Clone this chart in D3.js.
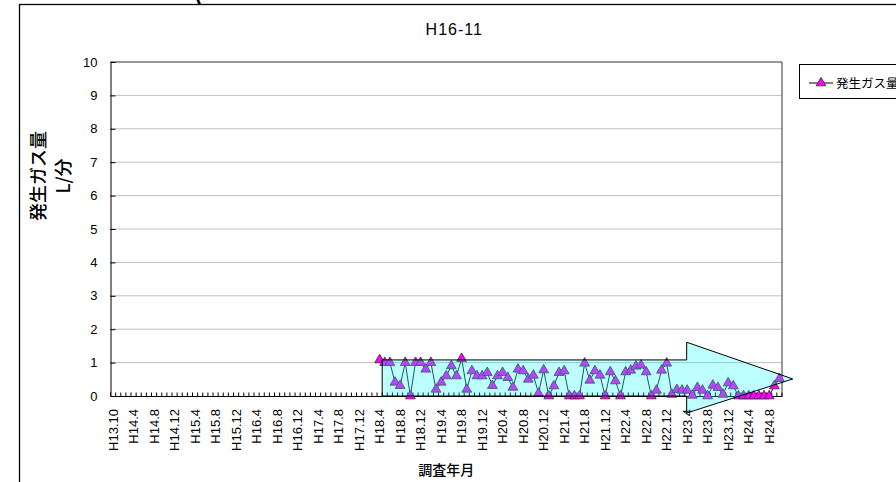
<!DOCTYPE html>
<html>
<head>
<meta charset="utf-8">
<script src="https://cdn.jsdelivr.net/npm/d3@7"></script>
<style>
body { margin: 0; background: #fff; }
svg { display: block; }
</style>
</head>
<body>
<script>
// ---- data ----
let chartTitle = "H16-11";
let seriesName = "発生ガス量";
let firstSurvey = "H18.4";   // first month with a reading

// monthly survey categories: H13.10, then H14.1 ... H24.10
let categories = ["H13.10"];
for (let k = 0; k < 130; k++) {
	categories.push("H" + (14 + Math.floor(k / 12)) + "." + (k % 12 + 1));
}

let tickLabels = ["H13.10","H14.4","H14.8","H14.12","H15.4","H15.8","H15.12",
	"H16.4","H16.8","H16.12","H17.4","H17.8","H17.12","H18.4","H18.8","H18.12",
	"H19.4","H19.8","H19.12","H20.4","H20.8","H20.12","H21.4","H21.8","H21.12",
	"H22.4","H22.8","H22.12","H23.4","H23.8","H23.12","H24.4","H24.8"];

// L/min, from H18.4 onwards
let gasFlow = [
	1.08, 1.0, 1.0, 0.41, 0.31, 1.0, 0, 1.0, 1.0, 0.8,
	1.0, 0.2, 0.41, 0.6, 0.9, 0.6, 1.12, 0.2, 0.75, 0.6,
	0.6, 0.7, 0.31, 0.6, 0.7, 0.55, 0.26, 0.8, 0.75, 0.5,
	0.62, 0.08, 0.78, 0, 0.3, 0.7, 0.75, 0, 0, 0,
	0.98, 0.47, 0.75, 0.62, 0, 0.72, 0.45, 0, 0.72, 0.77,
	0.89, 0.92, 0.72, 0, 0.17, 0.77, 0.98, 0.05, 0.19, 0.17,
	0.17, 0.02, 0.25, 0.17, 0, 0.32, 0.25, 0.05, 0.39, 0.3,
	0, 0, 0, 0, 0, 0, 0, 0.3, 0.52];

let yTicks = [0,1,2,3,4,5,6,7,8,9,10];

// trend arrow drawn over the chart (category-edge units, L/min)
let arrowX = {start: 53, neck: 112.4, tip: 133.1};
let arrowY = {shaftTop: 1.08, shaftBottom: 0, headTop: 1.61, headBottom: -0.51, tip: 0.51};

// ---- layout ----
let W = 896, H = 482;
let plot = {left: 110.5, right: 782, top: 62, bottom: 396};
let jp = "'Noto Sans CJK JP', sans-serif";
let en = "'Liberation Sans', Arial, sans-serif";

let svg = d3.select("body").append("svg")
	.attr("width", W)
	.attr("height", H);

let x = d3.scaleBand().domain(categories).range([plot.left, plot.right]);
let xEdge = d3.scaleLinear().domain([0, categories.length]).range([plot.left, plot.right]);
let y = d3.scaleLinear().domain([0, 10]).range([plot.bottom, plot.top]);

let cx = function(c) { return x(c) + x.bandwidth() / 2; };

// outer chart frame
svg.append("rect")
	.attr("x", 19.5).attr("y", 4.5)
	.attr("width", 1000).attr("height", 600)
	.attr("fill", "none").attr("stroke", "#000").attr("stroke-width", 1.3);

// cut-off text above chart
svg.append("text")
	.attr("x", 195).attr("y", 1)
	.attr("font-family", en).attr("font-size", 20).attr("font-weight", "bold")
	.text("(");

svg.append("text")
	.attr("x", (plot.left + plot.right) / 2 + 8).attr("y", 35)
	.attr("text-anchor", "middle")
	.attr("font-family", en).attr("font-size", 16).attr("letter-spacing", 1)
	.text(chartTitle);

// gridlines
svg.append("g")
	.selectAll("line")
	.data(yTicks.filter(function(d) { return d > 0 && d < 10; }))
	.enter().append("line")
	.attr("x1", plot.left).attr("x2", plot.right)
	.attr("y1", function(d) { return y(d); })
	.attr("y2", function(d) { return y(d); })
	.attr("stroke", "#808080")
	.attr("stroke-dasharray", "1,1");

// plot border (top / right)
svg.append("path")
	.attr("d", "M" + plot.left + "," + plot.top + "H" + plot.right + "V" + plot.bottom)
	.attr("fill", "none").attr("stroke", "#333");

// y axis
let yAxis = svg.append("g")
	.attr("transform", "translate(" + plot.left + ",0)")
	.call(d3.axisLeft(y).tickValues(yTicks).tickSize(-5).tickPadding(13).tickSizeOuter(0));
yAxis.select(".domain").attr("stroke", "#000");
yAxis.selectAll("text").attr("font-family", en).attr("font-size", 13).attr("fill", "#000");

// x axis labels
let xAxis = svg.append("g")
	.attr("transform", "translate(0," + plot.bottom + ")")
	.call(d3.axisBottom(x).tickValues(tickLabels).tickSize(0).tickSizeOuter(0));
xAxis.select(".domain").attr("stroke", "#000");
xAxis.selectAll("text")
	.attr("font-family", en).attr("font-size", 13).attr("fill", "#000")
	.attr("transform", "rotate(-90)")
	.attr("text-anchor", "end")
	.attr("x", -13).attr("y", 0).attr("dy", "0.35em");

// x minor ticks between categories (inside)
svg.append("g")
	.selectAll("line")
	.data(d3.range(categories.length + 1))
	.enter().append("line")
	.attr("x1", function(d) { return xEdge(d); })
	.attr("x2", function(d) { return xEdge(d); })
	.attr("y1", plot.bottom).attr("y2", plot.bottom - 3.5)
	.attr("stroke", "#000");

// axis titles
let yTitle = svg.append("text")
	.attr("transform", "translate(39,176) rotate(-90)")
	.attr("text-anchor", "middle")
	.attr("font-family", jp).attr("font-size", 18).attr("font-weight", 500);
yTitle.append("tspan").attr("x", 0).attr("dy", "0.35em").text("発生ガス量");
yTitle.append("tspan").attr("x", 0).attr("dy", 25).text("L/分");

svg.append("text")
	.attr("x", (plot.left + plot.right) / 2).attr("y", 475)
	.attr("text-anchor", "middle")
	.attr("font-family", jp).attr("font-size", 14).attr("font-weight", 500)
	.text("調査年月");

// series
let start = categories.indexOf(firstSurvey);
let points = gasFlow.map(function(v, k) { return {cat: categories[start + k], v: v}; });

let line = d3.line()
	.x(function(d) { return cx(d.cat); })
	.y(function(d) { return y(d.v); });

svg.append("path")
	.datum(points)
	.attr("d", line)
	.attr("fill", "none")
	.attr("stroke", "#222")
	.attr("stroke-width", 1);

let tri = d3.symbol().type(d3.symbolTriangle).size(42);

svg.append("g")
	.selectAll("path")
	.data(points)
	.enter().append("path")
	.attr("d", tri)
	.attr("transform", function(d) { return "translate(" + cx(d.cat) + "," + y(d.v) + ")"; })
	.attr("fill", "#ff00ff")
	.attr("stroke", "#303030")
	.attr("stroke-width", 0.8);

// legend
let lg = svg.append("g");
lg.append("rect")
	.attr("x", 799.5).attr("y", 64.5)
	.attr("width", 140).attr("height", 34)
	.attr("fill", "#fff").attr("stroke", "#000");
lg.append("line")
	.attr("x1", 809).attr("x2", 833).attr("y1", 83).attr("y2", 83)
	.attr("stroke", "#000");
lg.append("path")
	.attr("d", tri)
	.attr("transform", "translate(821,83)")
	.attr("fill", "#ff00ff").attr("stroke", "#303030").attr("stroke-width", 0.8);
lg.append("text")
	.attr("x", 836).attr("y", 87.5)
	.attr("font-family", jp).attr("font-size", 12.5)
	.text(seriesName);

// trend arrow on top
let arrowPts = [
	[arrowX.start, arrowY.shaftTop],
	[arrowX.neck, arrowY.shaftTop],
	[arrowX.neck, arrowY.headTop],
	[arrowX.tip, arrowY.tip],
	[arrowX.neck, arrowY.headBottom],
	[arrowX.neck, arrowY.shaftBottom],
	[arrowX.start, arrowY.shaftBottom]
];
svg.append("path")
	.attr("d", d3.line().x(function(d) { return xEdge(d[0]); }).y(function(d) { return y(d[1]); })(arrowPts) + "Z")
	.attr("fill", "#00ffff")
	.attr("fill-opacity", 0.26)
	.attr("stroke", "#000")
	.attr("stroke-width", 1);
</script>
</body>
</html>
